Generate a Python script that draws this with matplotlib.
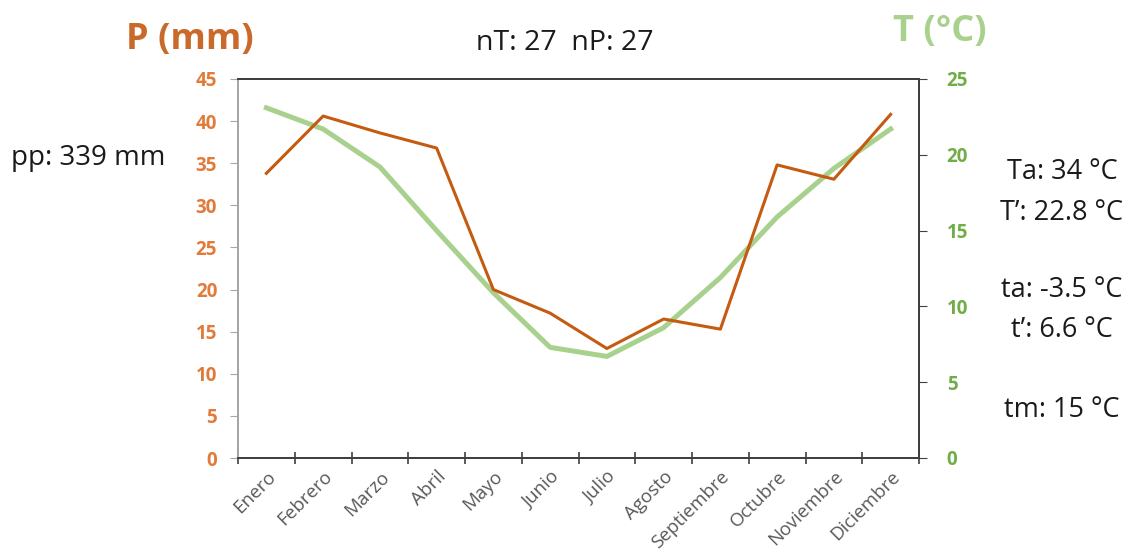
import matplotlib.pyplot as plt

months = ["Enero", "Febrero", "Marzo", "Abril", "Mayo", "Junio", "Julio",
          "Agosto", "Septiembre", "Octubre", "Noviembre", "Diciembre"]
precip = [33.8, 40.6, 38.6, 36.8, 20.0, 17.2, 13.0, 16.5, 15.3, 34.8, 33.1, 40.8]
temp = [23.1, 21.7, 19.2, 15.0, 10.9, 7.3, 6.7, 8.6, 11.9, 15.9, 19.1, 21.7]

side_notes = ["Ta: 34 °C", "T’: 22.8 °C", "ta: -3.5 °C", "t’: 6.6 °C", "tm: 15 °C"]
side_y = [172, 213, 290, 330, 410]

ORANGE_LINE = "#C55A11"
ORANGE_TXT = "#E07B39"
ORANGE_TITLE = "#C9692A"
GREEN_LINE = "#A9D18E"
GREEN_TXT = "#70AD47"
GRAY = "#595959"

plt.rcParams["font.family"] = ["Open Sans", "DejaVu Sans"]

W, H = 1133, 557
fig = plt.figure(figsize=(W / 100, H / 100), dpi=100)
ax = fig.add_axes([238 / W, 1 - 458 / H, (919 - 238) / W, (458 - 79) / H])
ax2 = ax.twinx()

x = list(range(len(months)))
ax.plot(x, precip, color=ORANGE_LINE, lw=2.2, zorder=3)
ax2.plot(x, temp, color=GREEN_LINE, lw=3.6, zorder=2)
ax.set_zorder(ax2.get_zorder() + 1)
ax.patch.set_visible(False)

ax.set_xlim(-0.5, 11.5)
ax.set_ylim(0, 45)
ax2.set_ylim(0, 25)
ax.set_yticks(range(0, 50, 5))
ax2.set_yticks(range(0, 30, 5))

ax.set_xticks([i - 0.5 for i in range(13)], minor=False)
ax.set_xticklabels([])
ax.set_xticks(x, minor=True)
ax.set_xticklabels(months, minor=True, rotation=45, ha="right", rotation_mode="anchor",
                   color=GRAY, fontsize=13.5)
ax.tick_params(axis="x", which="minor", length=0, pad=7)
ax.tick_params(axis="x", which="major", length=8, direction="inout", color="#404040", width=1.2)

ax.tick_params(axis="y", colors=ORANGE_TXT, length=6, color="#A6A6A6", labelsize=13.5, pad=9)
for lbl in ax.get_yticklabels():
    lbl.set_fontweight("bold")
ax2.tick_params(axis="y", colors=GREEN_TXT, length=6, color="#404040", labelsize=13.5, pad=14)
for lbl in ax2.get_yticklabels():
    lbl.set_fontweight("bold")

for a in (ax, ax2):
    a.spines["left"].set_color("#A6A6A6")
    a.spines["top"].set_color("#404040")
    a.spines["bottom"].set_color("#404040")
    a.spines["right"].set_color("#404040")
    for s in a.spines.values():
        s.set_linewidth(1.4)

def px(xp, yp):
    return xp / W, 1 - yp / H

fig.text(*px(190, 40), "P (mm)", color=ORANGE_TITLE, fontsize=26, fontweight="bold",
         ha="center", va="center")
fig.text(*px(940, 32), "T (°C)", color=GREEN_LINE, fontsize=26, fontweight="bold",
         ha="center", va="center")
fig.text(*px(565, 43), "nT: 27  nP: 27", color="#1a1a1a", fontsize=20.5, ha="center", va="center")
fig.text(*px(88, 158), "pp: 339 mm", color="#1a1a1a", fontsize=20, ha="center", va="center")
for note, yy in zip(side_notes, side_y):
    fig.text(*px(1062, yy), note, color="#1a1a1a", fontsize=19.5, ha="center", va="center")

fig.savefig("out.png", dpi=100, facecolor="white")
